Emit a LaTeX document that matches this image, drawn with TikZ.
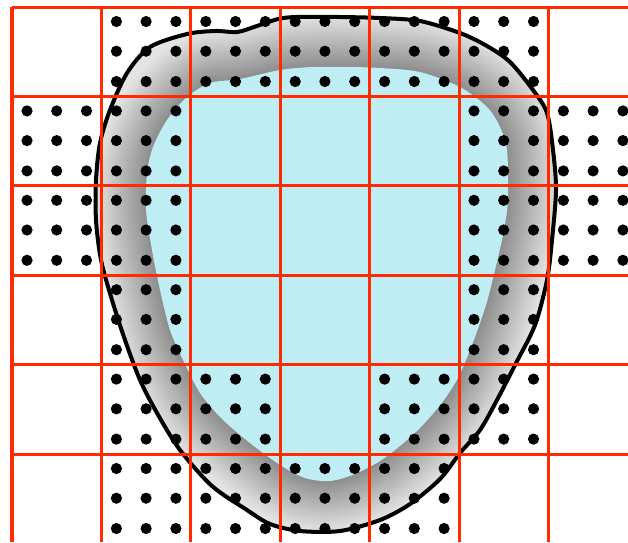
\documentclass[tikz,border=0pt]{standalone}
\usepackage{tikz}
\usepackage{xcolor}
\definecolor{gridred}{HTML}{FF2A00}
\definecolor{blobcyan}{HTML}{BEEDF3}
\definecolor{bandlight}{HTML}{E4E4E4}
\definecolor{banddark}{HTML}{8C8C8C}
\def\outerblob{plot[smooth cycle] coordinates {(297,17) (340,17) (380,18) (420,21) (460,33) (487,46) (510,62) (533,90) (547,113) (553,150) (556,190) (552,240) (547,280) (535,325) (515,365) (497,400) (480,430) (460,453) (440,479) (410,504) (380,520) (340,531) (300,531) (270,524) (247,510) (212,486) (180,450) (157,413) (140,380) (125,340) (112,300) (101,260) (96,220) (96,180) (100,143) (110,110) (127,73) (150,47) (187,34) (215,31) (237,32) (254,27) (278,19)}}
\def\innerblob{plot[smooth cycle] coordinates {(210,83) (240,79) (280,70) (313,67) (350,67) (380,68) (420,72) (460,87) (487,107) (500,127) (507,150) (508,200) (503,235) (495,270) (486,305) (472,345) (458,378) (441,404) (420,428) (400,446) (380,461) (355,474) (330,481) (305,478) (280,465) (250,443) (222,419) (200,393) (184,362) (170,330) (160,290) (152,250) (146,210) (147,173) (153,147) (167,120) (187,97)}}

\begin{document}
\begin{tikzpicture}[x=0.025cm, y=-0.025cm,
    gl/.style={draw=gridred, line width=0.075cm},
    dot/.style={fill=black}]
  \useasboundingbox (0,0) rectangle (628,542);
  \fill[bandlight] \outerblob;
  \begin{scope}
    \clip \outerblob;
    \foreach \k in {0,...,29}{
      \pgfmathsetmacro\w{0.05*60*(1-\k/30)}
      \pgfmathsetmacro\p{min(100,115*(1-\k/30))}
      \draw[line width=\w cm, line join=round, bandlight!\p!banddark] \innerblob;
    }
  \end{scope}
  \fill[blobcyan] \innerblob;
  \draw[line width=0.1cm, line join=round] \outerblob;
  \foreach \i in {0,...,6}
    \draw[gl] (12+89.4*\i,7) -- (12+89.4*\i,542);
  \foreach \j in {0,...,5}
    \draw[gl] (12,7+89.4*\j) -- (628,7+89.4*\j);
  \foreach \c/\r in {1/0,2/0,3/0,4/0,5/0, 0/1,1/1,5/1,6/1, 0/2,1/2,5/2,6/2,
                     1/3,5/3, 1/4,2/4,4/4,5/4, 1/5,2/5,3/5,4/5}
    \foreach \a in {15,44.7,74.5}
      \foreach \b in {14.5,44.2,74.5}
        \fill[dot] (12+89.4*\c+\a,7+89.4*\r+\b) circle[radius=0.14cm];
\end{tikzpicture}
\end{document}
